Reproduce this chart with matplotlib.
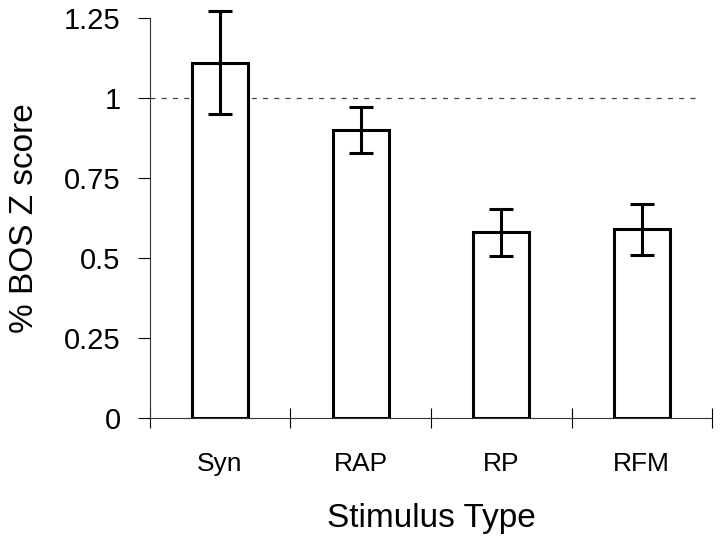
import numpy as np
import matplotlib.pyplot as plt

plt.rcParams['font.family'] = ['Liberation Sans', 'DejaVu Sans']

# data
stimuli = ['Syn', 'RAP', 'RP', 'RFM']
zscore = [1.11, 0.90, 0.58, 0.59]
sem = [0.16, 0.073, 0.074, 0.08]
yticks = [0, 0.25, 0.5, 0.75, 1, 1.25]
ytick_labels = ['0', '0.25', '0.5', '0.75', '1', '1.25']

fig = plt.figure(figsize=(7.2, 5.41), dpi=100)
ax = fig.add_axes([0.208, 0.227, 0.781, 0.740])

x = np.arange(len(stimuli)) + 0.5
ax.bar(x, zscore, width=0.40, color='white', edgecolor='black', linewidth=2.2, zorder=2)
eb = ax.errorbar(x, zscore, yerr=sem, fmt='none', ecolor='black', elinewidth=2.2,
                 capsize=8.5, capthick=2.2, zorder=3)
for artist in eb.lines[1] + eb.lines[2]:
    artist.set_clip_on(False)

# reference line at 1
ax.plot([0, 3.88], [1, 1], color='#444444', linewidth=0.9, dashes=(4, 5), zorder=1)

ax.set_xlim(0, 4)
ax.set_ylim(0, 1.25)
ax.set_yticks(yticks)
ax.set_yticklabels(ytick_labels, fontsize=21)
ax.set_xticks([0, 1, 2, 3, 4])
ax.set_xticklabels([])
ax.set_xticks(x, minor=True)
ax.set_xticklabels(stimuli, minor=True, fontsize=19)

ax.tick_params(axis='y', direction='out', length=9, width=0.8, pad=12)
ax.tick_params(axis='x', which='major', direction='inout', length=14, width=0.8)
ax.tick_params(axis='x', which='minor', length=0, pad=24)

for side in ['top', 'right']:
    ax.spines[side].set_visible(False)
for side in ['left', 'bottom']:
    ax.spines[side].set_linewidth(0.8)
    ax.spines[side].set_color('#333333')

ax.set_xlabel('Stimulus Type', fontsize=24, labelpad=20)
ax.set_ylabel('% BOS Z score', fontsize=24)
ax.yaxis.set_label_coords(-0.195, 0.5)

fig.savefig('out.png', dpi=100)
